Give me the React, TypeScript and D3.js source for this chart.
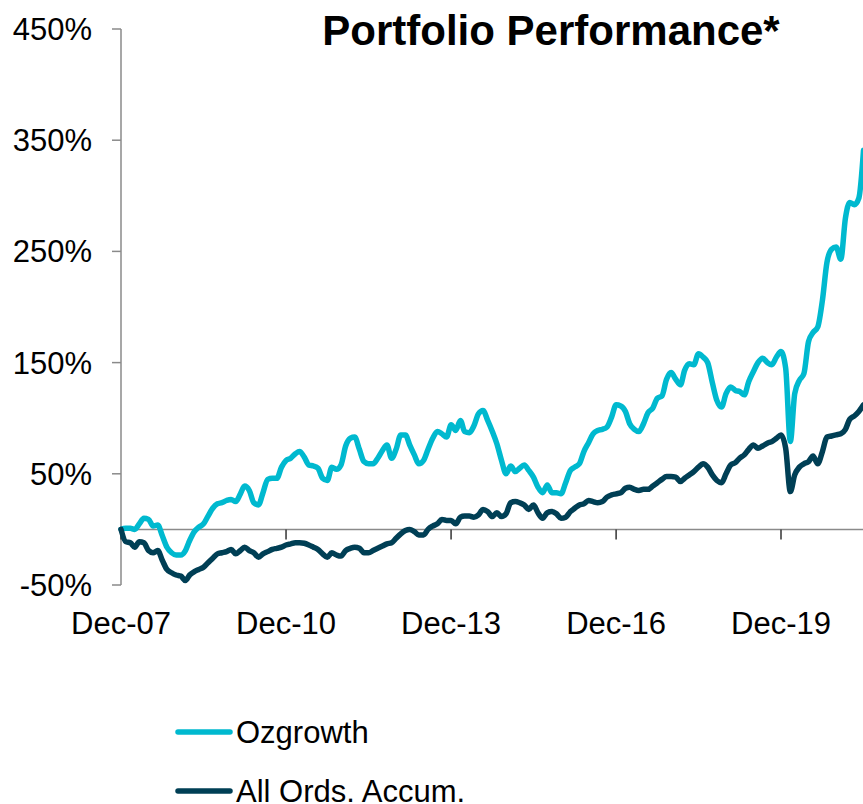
import React from "react";
import * as d3 from "d3";

const START = new Date(2007, 11, 1);

const ozgrowth: number[] = [
  0, 1, 1, 0, 5, 10, 9, 3, 4, -6, -16, -21, -23, -23, -19, -10, -2, 2, 5, 12,
  19, 23, 24, 26, 27, 25, 32, 39, 35, 24, 22, 33, 45, 46, 46, 56, 62, 64, 68, 70,
  65, 58, 57, 55, 46, 44, 56, 54, 58, 75, 82, 83, 72, 61, 59, 59, 64, 71, 76, 64,
  72, 85, 85, 76, 67, 59, 62, 72, 82, 88, 86, 83, 94, 89, 98, 88, 87, 93, 104, 107,
  98, 88, 77, 62, 50, 57, 52, 55, 58, 53, 47, 38, 33, 40, 33, 33, 32, 42, 53, 56,
  59, 70, 78, 86, 89, 90, 92, 101, 112, 111, 106, 95, 90, 88, 95, 105, 109, 118, 120, 135,
  141, 135, 130, 143, 149, 148, 158, 155, 150, 132, 116, 110, 122, 128, 125, 124, 121, 133, 142, 150,
  154, 150, 148, 155, 160, 145, 79, 122, 134, 140, 169, 177, 182, 206, 240, 252, 254, 243, 280, 294,
  292, 298, 341,
];

const allOrds: number[] = [
  0, -11, -12, -16, -11, -12, -19, -21, -19, -28, -36, -39, -41, -42, -46, -41, -38, -36, -34, -30,
  -26, -22, -21, -20, -18, -22, -19, -16, -19, -21, -25, -22, -20, -18, -17, -16, -14, -13, -12, -12,
  -12.5, -14, -16, -18, -22, -25, -21, -23, -24, -19, -17, -16, -17, -21, -21, -19, -17, -15, -13, -12,
  -8, -4, -1, 0, -2, -5, -5, 0, 3, 5, 9, 8, 8, 5, 11, 12, 12, 11, 13, 18,
  16, 11.5, 15, 11.5, 14, 24, 25, 24, 22, 18, 22, 15, 10, 15, 16, 14, 10, 11, 16, 19,
  22, 23, 26, 25, 24, 25, 29, 31, 32, 33, 37, 38, 36, 35, 36, 36, 39, 42, 45, 47.5,
  47.5, 47, 43, 46, 49, 52, 56, 59, 56, 49, 44, 42, 50, 58, 60, 64, 67, 72, 76, 73,
  75, 77.5, 79, 82, 85, 73, 34, 49, 56, 59, 61, 66, 59, 70, 83, 84, 85, 86, 90, 99,
  102, 106, 112,
];

const yTicks: number[] = [-50, 50, 150, 250, 350, 450];
const xTickYears: number[] = [2007, 2010, 2013, 2016, 2019];

const seriesNames = ["Ozgrowth", "All Ords. Accum."];
const seriesColors = ["#00B9CF", "#003F55"];

const W = 863;
const H = 804;
const FONT = "'Liberation Sans', Arial, sans-serif";

export default function App() {
  const x = d3
    .scaleTime()
    .domain([new Date(2007, 11, 1), new Date(2019, 11, 1)])
    .range([121, 781]);
  const y = d3.scaleLinear().domain([-50, 450]).range([585, 29]);

  const dateOf = (i: number) => d3.timeMonth.offset(START, i);

  const line = d3
    .line<number>()
    .x((_, i) => x(dateOf(i)))
    .y((d) => y(d))
    .curve(d3.curveMonotoneX);

  const fmt = d3.timeFormat("%b-%y");
  const axisColor = "#8a8a8a";
  const y0 = y(0);

  const series = [ozgrowth, allOrds];

  return (
    <svg
      width={W}
      height={H}
      style={{ position: "absolute", left: 0, top: 0, background: "#fff" }}
      fontFamily={FONT}
    >
      <rect x={0} y={0} width={W} height={H} fill="#fff" />
      <text
        x={551}
        y={45}
        textAnchor="middle"
        fontSize={42}
        fontWeight="bold"
        fill="#000"
      >
        Portfolio Performance*
      </text>

      <line x1={x.range()[0]} x2={x.range()[0]} y1={y(450)} y2={y(-50)} stroke={axisColor} strokeWidth={1.5} />
      {yTicks.map((t) => (
        <g key={t}>
          <line x1={x.range()[0] - 9} x2={x.range()[0]} y1={y(t)} y2={y(t)} stroke={axisColor} strokeWidth={1.5} />
          <text x={92} y={y(t) + 11} textAnchor="end" fontSize={31} fill="#000">
            {`${t}%`}
          </text>
        </g>
      ))}

      <line x1={x.range()[0]} x2={W} y1={y0} y2={y0} stroke={axisColor} strokeWidth={1.5} />
      {xTickYears.map((yr) => {
        const d = new Date(yr, 11, 1);
        return (
          <g key={yr}>
            <line x1={x(d)} x2={x(d)} y1={y0} y2={y0 + 10} stroke="#333" strokeWidth={1.5} />
            <text x={x(d)} y={634} textAnchor="middle" fontSize={31} fill="#000">
              {fmt(d)}
            </text>
          </g>
        );
      })}

      {series.map((s, k) => (
        <path
          key={k}
          d={line(s) || ""}
          fill="none"
          stroke={seriesColors[k]}
          strokeWidth={5.5}
          strokeLinejoin="round"
          strokeLinecap="round"
        />
      ))}

      {seriesNames.map((n, k) => {
        const ly = 732 + k * 59;
        return (
          <g key={n}>
            <line x1={178} x2={230} y1={ly} y2={ly} stroke={seriesColors[k]} strokeWidth={5.5} strokeLinecap="round" />
            <text x={236} y={ly + 11} fontSize={31} fill="#000">
              {n}
            </text>
          </g>
        );
      })}
    </svg>
  );
}
